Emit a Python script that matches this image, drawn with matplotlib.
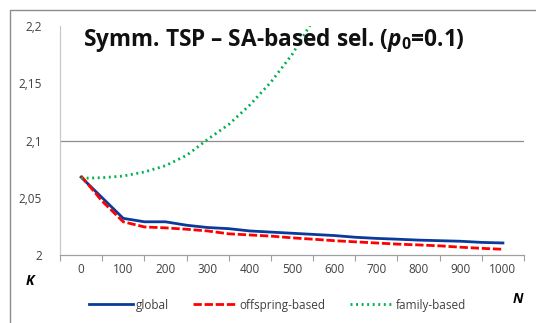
import numpy as np
import matplotlib
matplotlib.use('Agg')
import matplotlib.pyplot as plt
from matplotlib.patches import Rectangle

plt.rcParams['font.family'] = ['Open Sans', 'DejaVu Sans']
plt.rcParams['mathtext.fontset'] = 'custom'
plt.rcParams['mathtext.it'] = 'Open Sans:bold:italic'
plt.rcParams['mathtext.rm'] = 'Open Sans:bold'

# population size N (sample points) and selection pressure K
n_values = [0, 50, 100, 150, 200, 250, 300, 350, 400, 450, 500,
            550, 600, 650, 700, 750, 800, 850, 900, 950, 1000]
k_global = [2.068, 2.050, 2.032, 2.029, 2.029, 2.026, 2.024, 2.023, 2.021,
            2.020, 2.019, 2.018, 2.017, 2.0155, 2.0145, 2.0138, 2.013,
            2.0125, 2.012, 2.011, 2.0105]
k_offspring = [2.069, 2.047, 2.029, 2.0245, 2.0237, 2.0225, 2.021, 2.0185,
               2.0175, 2.0165, 2.015, 2.0138, 2.0125, 2.0115, 2.0105, 2.0095,
               2.0088, 2.008, 2.0068, 2.0058, 2.005]
n_family = [0, 50, 100, 150, 200, 250, 300, 350, 400, 450, 500, 550]
k_family = [2.067, 2.0675, 2.069, 2.0725, 2.078, 2.087, 2.101, 2.114,
            2.131, 2.151, 2.175, 2.205]

x_labels = [0, 100, 200, 300, 400, 500, 600, 700, 800, 900, 1000]
y_labels = ['2', '2,05', '2,1', '2,15', '2,2']
y_ticks = [2.0, 2.05, 2.1, 2.15, 2.2]

fig = plt.figure(figsize=(5.36, 3.23), dpi=100)
ax = fig.add_axes([60/536, 68/323, 464/536, 229/323])

ax.plot(n_values, k_global, color='#0A3A9A', lw=2.0, label='global')
ax.plot(n_values, k_offspring, color='#FF0000', lw=2.0, dashes=(3, 1),
        label='offspring-based')
ax.plot(n_family, k_family, color='#00B050', lw=2.0, linestyle=(0, (0.7, 1.3)),
        label='family-based')

ax.set_xlim(-50, 1050)
ax.set_ylim(2.0, 2.2)
ax.axhline(2.1, color='#8c8c8c', lw=0.9, zorder=0)

ax.set_xticks(x_labels)
ax.set_xticklabels([str(v) for v in x_labels])
ax.set_xticks(np.arange(-50, 1100, 100), minor=True)
ax.tick_params(axis='x', which='major', length=0, pad=6, labelsize=8.5,
               labelcolor='#404040')
ax.tick_params(axis='x', which='minor', length=4, color='#a0a0a0', width=0.8)

ax.set_yticks(y_ticks)
ax.set_yticklabels(y_labels)
ax.set_yticks([2.0, 2.1], minor=True)
ax.tick_params(axis='y', which='major', length=0, pad=13, labelsize=8.5,
               labelcolor='#404040')
ax.tick_params(axis='y', which='minor', length=5, color='#8c8c8c', width=0.9)

for side in ['top', 'right']:
    ax.spines[side].set_visible(False)
ax.spines['left'].set_color('#c8c8c8')
ax.spines['bottom'].set_color('#a0a0a0')
ax.spines['left'].set_linewidth(0.9)
ax.spines['bottom'].set_linewidth(0.9)

fig.text(83/536, 1 - 40/323, 'Symm. TSP \u2013 SA-based sel. ($p_0$=0.1)',
         fontsize=16.3, fontweight='bold', va='center', ha='left', color='#111111')
fig.text(30/536, 1 - 281/323, 'K', fontsize=10, fontweight='bold', style='italic',
         ha='center', va='center')
fig.text(518/536, 1 - 299/323, 'N', fontsize=10, fontweight='bold', style='italic',
         ha='center', va='center')

fig.legend(loc='center', bbox_to_anchor=(278/536, 1 - 305/323), ncol=3,
           frameon=False, fontsize=8.5, handlelength=3.7, columnspacing=2.1,
           handletextpad=0.2, labelcolor='#404040')

fig.patches.append(Rectangle((10/536, -0.1), 1.0, 1 - 10/323 + 0.1,
                             transform=fig.transFigure, fill=False,
                             edgecolor='#8c8c8c', lw=1.0))

fig.savefig('out.png', dpi=100)
